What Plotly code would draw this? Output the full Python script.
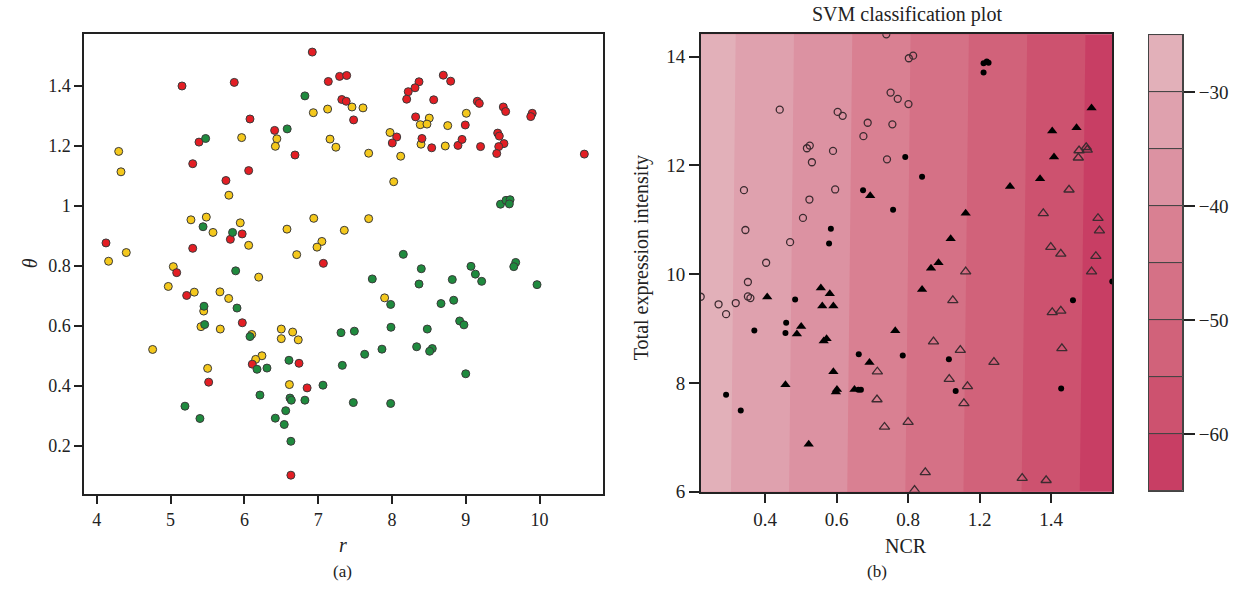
import plotly.graph_objects as go

W, H = 1245, 609

# ---------------- Panel (a): r vs theta ----------------
red_r = [6.92, 5.155, 5.863, 7.137, 7.29, 7.386, 7.32, 7.38, 7.48, 6.076, 6.41, 5.385, 6.686, 5.30,
         6.058, 5.75, 5.97, 5.81, 4.125, 5.30, 7.07, 5.083, 5.218, 5.972, 6.107, 6.74, 5.516, 6.85,
         6.63, 8.695, 8.795, 8.366, 8.312, 8.22, 8.199, 8.565, 9.156, 9.183, 9.508, 9.54, 9.90, 9.88,
         8.32, 8.993, 8.064, 8.004, 8.406, 8.538, 8.894, 8.949, 9.20, 9.432, 9.454, 9.517, 9.446,
         9.419, 10.606]
red_theta = [1.512, 1.399, 1.411, 1.414, 1.431, 1.434, 1.354, 1.348, 1.286, 1.289, 1.251, 1.212, 1.169,
             1.140, 1.117, 1.084, 0.906, 0.888, 0.876, 0.858, 0.808, 0.777, 0.701, 0.610, 0.472, 0.475,
             0.412, 0.393, 0.102, 1.435, 1.415, 1.413, 1.393, 1.380, 1.355, 1.353, 1.348, 1.341, 1.329,
             1.314, 1.308, 1.297, 1.296, 1.269, 1.229, 1.209, 1.224, 1.193, 1.201, 1.221, 1.197, 1.242,
             1.232, 1.207, 1.197, 1.174, 1.172]

yellow_r = [7.458, 7.128, 6.934, 6.44, 6.42, 7.16, 7.24, 5.963, 4.297, 4.328, 5.79, 5.276, 5.484, 5.575,
            5.944, 6.058, 6.577, 6.94, 7.354, 7.05, 6.984, 6.709, 4.40, 4.16, 5.037, 6.194, 4.969, 5.321,
            5.669, 5.787, 5.449, 5.412, 5.673, 6.099, 6.50, 6.654, 6.50, 6.73, 4.757, 6.238, 6.153, 5.502,
            6.61, 7.607, 8.505, 8.383, 8.474, 9.007, 8.755, 7.973, 8.393, 8.722, 7.684, 8.118, 8.023,
            7.684, 7.90]
yellow_theta = [1.329, 1.322, 1.310, 1.223, 1.198, 1.222, 1.195, 1.227, 1.181, 1.113, 1.035, 0.953, 0.962,
                0.911, 0.943, 0.868, 0.922, 0.958, 0.918, 0.881, 0.862, 0.837, 0.844, 0.815, 0.797, 0.762,
                0.731, 0.712, 0.713, 0.691, 0.649, 0.597, 0.589, 0.571, 0.589, 0.579, 0.557, 0.553, 0.521,
                0.500, 0.488, 0.458, 0.404, 1.326, 1.292, 1.270, 1.272, 1.308, 1.267, 1.244, 1.205, 1.199,
                1.175, 1.165, 1.080, 0.957, 0.693]

green_r = [6.82, 6.58, 5.475, 5.44, 5.84, 5.882, 5.453, 5.90, 5.462, 6.076, 7.309, 7.49, 6.171, 6.306,
           6.604, 7.327, 7.065, 6.211, 6.618, 6.636, 6.82, 7.476, 5.195, 6.56, 6.419, 5.398, 6.54, 6.63,
           9.47, 9.545, 9.60, 9.59, 8.153, 9.676, 9.65, 8.397, 9.07, 9.13, 9.215, 9.965, 7.733, 8.366,
           8.817, 7.982, 8.664, 8.836, 7.986, 8.478, 8.917, 8.975, 7.864, 7.63, 8.334, 8.546, 8.51,
           8.999, 7.982]
green_theta = [1.366, 1.256, 1.224, 0.930, 0.911, 0.783, 0.665, 0.659, 0.604, 0.564, 0.577, 0.582, 0.455,
               0.459, 0.485, 0.468, 0.402, 0.369, 0.359, 0.352, 0.352, 0.344, 0.332, 0.317, 0.292, 0.291,
               0.271, 0.215, 1.005, 1.018, 1.020, 1.006, 0.838, 0.811, 0.797, 0.790, 0.798, 0.772, 0.748,
               0.737, 0.756, 0.739, 0.754, 0.671, 0.674, 0.685, 0.595, 0.589, 0.616, 0.603, 0.522, 0.505,
               0.530, 0.524, 0.515, 0.440, 0.341]

left_xticks = [4, 5, 6, 7, 8, 9, 10]
left_yticks = [0.2, 0.4, 0.6, 0.8, 1.0, 1.2, 1.4]
left_yticktext = ["0.2", "0.4", "0.6", "0.8", "1", "1.2", "1.4"]

# ---------------- Panel (b): SVM classification plot ----------------
open_circle_x = [0.739, 0.441, 0.603, 0.617, 0.687, 0.675, 0.751, 0.771, 0.756, 0.517, 0.525, 0.590,
                 0.531, 0.741, 0.341, 0.596, 0.524, 0.506, 0.345, 0.470, 0.403, 0.802, 0.814, 0.801,
                 0.352, 0.352, 0.359, 0.270, 0.318, 0.291, 0.220]
open_circle_y = [14.41, 13.025, 12.984, 12.912, 12.785, 12.538, 13.339, 13.224, 12.755, 12.316, 12.365,
                 12.267, 12.058, 12.112, 11.545, 11.558, 11.372, 11.034, 10.812, 10.589, 10.21, 13.971,
                 14.018, 13.128, 9.856, 9.59, 9.56, 9.446, 9.469, 9.265, 9.585]

filled_circle_x = [0.674, 0.758, 0.584, 0.579, 1.011, 1.020, 1.025, 1.011, 0.792, 0.839, 1.261, 0.785,
                   0.914, 0.933, 1.228, 1.371, 0.484, 0.459, 0.457, 0.370, 0.291, 0.332, 0.662, 0.661,
                   0.668]
filled_circle_y = [11.545, 11.184, 10.836, 10.565, 13.88, 13.91, 13.89, 13.71, 12.153, 11.792, 9.518,
                   8.502, 8.435, 7.852, 7.899, 9.866, 9.536, 9.108, 8.917, 8.964, 7.780, 7.491, 8.525,
                   7.875, 7.875]

filled_tri_x = [0.694, 1.313, 1.203, 1.271, 1.208, 1.169, 1.085, 0.961, 0.919, 0.885, 0.864, 0.839,
                0.764, 0.406, 0.556, 0.581, 0.560, 0.591, 0.501, 0.489, 0.564, 0.572, 0.591, 0.457,
                0.601, 0.598, 0.650, 0.692, 0.522]
filled_tri_y = [11.444, 13.056, 12.635, 12.694, 12.153, 11.756, 11.612, 11.119, 10.650, 10.21, 10.108,
                9.717, 8.958, 9.578, 9.747, 9.639, 9.415, 9.415, 9.036, 8.899, 8.773, 8.814, 8.206,
                7.966, 7.881, 7.834, 7.881, 8.376, 6.870]

open_tri_x = [1.278, 1.298, 1.301, 1.276, 1.250, 1.178, 1.331, 1.335, 1.199, 1.227, 1.325, 1.313,
              0.961, 0.925, 1.203, 1.227, 0.871, 0.946, 1.230, 1.040, 0.915, 0.966, 0.956, 0.734,
              0.800, 0.848, 0.818, 1.119, 1.186, 0.714, 0.713]
open_tri_y = [12.274, 12.334, 12.285, 12.141, 11.552, 11.119, 11.029, 10.80, 10.498, 10.372, 10.33,
              10.047, 10.047, 9.518, 9.296, 9.325, 8.760, 8.603, 8.634, 8.381, 8.069, 7.935, 7.623,
              7.19, 7.28, 6.354, 6.03, 6.25, 6.21, 8.206, 7.695]

surf_x = [0.220, 1.371]
surf_y = [6.0, 14.41]
surf_z = [[-27.4, -62.8],
          [-27.0, -62.3]]

# colour key: level bands (bottom to top) and their fills
levels = [-65, -60, -55, -50, -45, -40, -35, -30, -25]
band_colors = ["#C83E64", "#CD526F", "#D1627A", "#D57186", "#D98092", "#DC92A2", "#DFA1AE", "#E2B0B9"]
key_ticks = [-30, -40, -50, -60]
key_ticktext = ["\u221230", "\u221240", "\u221250", "\u221260"]

right_xticks = [0.4, 0.6, 0.8, 1.0, 1.2]
right_xticktext = ["0.4", "0.6", "0.8", "1.2", "1.4"]
right_yticks = [6, 8, 10, 12, 14]

# ---------------- helpers ----------------
FONT = "Liberation Serif"


def fx(px):
    return px / W


def fy(py):
    return 1 - py / H


n_bands = len(band_colors)
step = (levels[1] - levels[0])
nlev = len(levels)
colorscale = []
for k, c in enumerate(band_colors):
    lo = 0.0 if k == 0 else (k + 0.5) / nlev
    hi = 1.0 if k == n_bands - 1 else (k + 1.5) / nlev
    colorscale.append([lo, c])
    colorscale.append([hi, c])

fig = go.Figure()

edge = "#3a3a3a"
fig.add_trace(go.Scatter(x=yellow_r, y=yellow_theta, mode="markers",
                         marker=dict(size=8, color="#F4C81C", line=dict(width=1, color=edge)),
                         xaxis="x", yaxis="y", showlegend=False))
fig.add_trace(go.Scatter(x=red_r, y=red_theta, mode="markers",
                         marker=dict(size=8, color="#E31E24", line=dict(width=1, color=edge)),
                         xaxis="x", yaxis="y", showlegend=False))
fig.add_trace(go.Scatter(x=green_r, y=green_theta, mode="markers",
                         marker=dict(size=8, color="#1F8A3E", line=dict(width=1, color=edge)),
                         xaxis="x", yaxis="y", showlegend=False))

fig.add_trace(go.Contour(x=surf_x, y=surf_y, z=surf_z, xaxis="x2", yaxis="y2",
                         colorscale=colorscale, zmin=levels[0], zmax=levels[-1],
                         contours=dict(start=levels[0], end=levels[-1], size=step,
                                       coloring="fill", showlines=False),
                         line=dict(width=0), showscale=False, hoverinfo="skip"))

oc = "#3d2b30"
fig.add_trace(go.Scatter(x=open_circle_x, y=open_circle_y, mode="markers", xaxis="x2", yaxis="y2",
                         marker=dict(symbol="circle-open", size=7, color=oc, line=dict(width=1.3)),
                         showlegend=False))
fig.add_trace(go.Scatter(x=open_tri_x, y=open_tri_y, mode="markers", xaxis="x2", yaxis="y2",
                         marker=dict(symbol="triangle-up-open", size=9, color=oc, line=dict(width=1.3)),
                         showlegend=False))
fig.add_trace(go.Scatter(x=filled_circle_x, y=filled_circle_y, mode="markers", xaxis="x2", yaxis="y2",
                         marker=dict(symbol="circle", size=6, color="black"), showlegend=False))
fig.add_trace(go.Scatter(x=filled_tri_x, y=filled_tri_y, mode="markers", xaxis="x2", yaxis="y2",
                         marker=dict(symbol="triangle-up", size=9, color="black"), showlegend=False))

# colour key as stacked bands
fig.add_trace(go.Bar(x=[0] * n_bands, y=[levels[i + 1] - levels[i] for i in range(n_bands)],
                     base=levels[:-1], width=1, xaxis="x3", yaxis="y3",
                     marker=dict(color=band_colors, line=dict(width=1, color="#444444")),
                     showlegend=False, hoverinfo="skip"))

left_tickfont = dict(family=FONT, size=18, color="#222222")
right_tickfont = dict(family=FONT, size=19, color="#222222")
axis_common = dict(showline=True, mirror=True, linecolor="#222222", showgrid=False, zeroline=False,
                   ticks="outside", tickcolor="#222222")

fig.update_layout(
    width=W, height=H, margin=dict(l=0, r=0, t=0, b=0),
    font=dict(family=FONT, color="#222222"),
    paper_bgcolor="white", plot_bgcolor="white",
    xaxis=dict(domain=[fx(84), fx(603.3)], range=[3.827, 10.863], tickvals=left_xticks,
               linewidth=1.5, ticklen=8, tickwidth=1.5, anchor="y", tickfont=left_tickfont,
               **axis_common),
    yaxis=dict(domain=[fy(503.5), fy(35)], range=[0.038, 1.571], tickvals=left_yticks,
               ticktext=left_yticktext, linewidth=1.5, ticklen=8, tickwidth=1.5, anchor="x",
               tickfont=left_tickfont, **axis_common),
    xaxis2=dict(domain=[fx(700.7), fx(1112.3)], range=[surf_x[0], surf_x[1]], tickvals=right_xticks,
                ticktext=right_xticktext, linewidth=1.5, ticklen=10, tickwidth=2, anchor="y2",
                tickfont=right_tickfont, **axis_common),
    yaxis2=dict(domain=[fy(500.7), fy(35)], range=[surf_y[0], surf_y[1]], tickvals=right_yticks,
                linewidth=1.5, ticklen=10, tickwidth=2, anchor="x2", tickfont=right_tickfont,
                **axis_common),
    xaxis3=dict(domain=[fx(1149), fx(1183)], range=[-0.5, 0.5], showticklabels=False, ticks="",
                showline=True, mirror=True, linecolor="#444444", linewidth=1, showgrid=False,
                zeroline=False, anchor="y3"),
    yaxis3=dict(domain=[fy(500), fy(35.7)], range=[levels[0], levels[-1]], side="right",
                tickvals=key_ticks, ticktext=key_ticktext, ticks="outside", ticklen=11, tickwidth=2,
                tickcolor="#222222", tickfont=right_tickfont, showline=True, mirror=True,
                linecolor="#444444", linewidth=1, showgrid=False, zeroline=False, anchor="x3"),
    bargap=0,
)

ann_font = dict(family=FONT, size=20, color="#222222")
annotations = [
    dict(text="<i>r</i>", x=fx(343), y=fy(555), font=dict(family=FONT, size=20, color="#222222")),
    dict(text="<i>θ</i>", x=fx(30), y=fy(268), textangle=-90, font=dict(family=FONT, size=20, color="#222222")),
    dict(text="(a)", x=fx(343), y=fy(582), font=dict(family=FONT, size=17, color="#222222")),
    dict(text="NCR", x=fx(906), y=fy(556), font=ann_font),
    dict(text="Total expression intensity", x=fx(641), y=fy(263), textangle=-90, font=ann_font),
    dict(text="(b)", x=fx(877), y=fy(582), font=dict(family=FONT, size=17, color="#222222")),
    dict(text="SVM classification plot", x=fx(907), y=fy(15), font=ann_font),
]
for a in annotations:
    a.update(xref="paper", yref="paper", showarrow=False, xanchor="center", yanchor="middle")
fig.update_layout(annotations=annotations)

fig.write_html("out.html", config={"displayModeBar": False},
               post_script="document.body.style.margin='0';")
